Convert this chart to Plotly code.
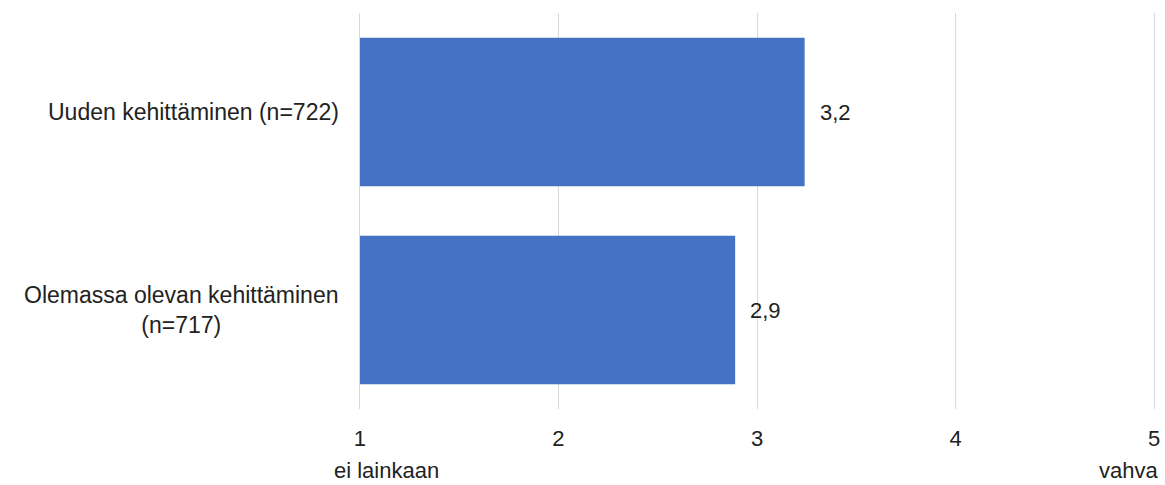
import plotly.graph_objects as go

categories = ["Uuden kehittäminen (n=722)", "Olemassa olevan kehittäminen<br>(n=717)"]
values = [3.24, 2.89]
tick_vals = [1, 2, 3, 4, 5]
tick_text = ["1", "2", "3", "4", "5"]
scale_ends = ["ei lainkaan", "vahva"]

FONT = "Liberation Sans, Arial, sans-serif"
TEXT = "#222222"
BAR = "#4472C4"

fig = go.Figure()
fig.add_trace(go.Bar(
    y=categories,
    x=[v - 1 for v in values],
    base=1,
    orientation="h",
    marker=dict(color=BAR, line=dict(width=0)),
    width=0.75,
    hoverinfo="skip",
))

annotations = []
# value labels to the right of each bar
for cat, v in zip(categories, values):
    annotations.append(dict(
        x=v, y=cat, xref="x", yref="y",
        text=f"{v:.1f}".replace(".", ","),
        showarrow=False, xanchor="left", xshift=13,
        font=dict(family=FONT, size=22, color=TEXT),
    ))
# category labels, lines centred on each other
for cat in categories:
    annotations.append(dict(
        x=0, y=cat, xref="paper", yref="y",
        text=cat, align="center",
        showarrow=False, xanchor="right", xshift=-17,
        font=dict(family=FONT, size=23, color=TEXT),
    ))
# scale end descriptions under the axis
annotations.append(dict(
    x=tick_vals[0], y=0, xref="x", yref="paper", yanchor="bottom", yshift=-76,
    text=scale_ends[0], showarrow=False, xanchor="left", xshift=-28,
    font=dict(family=FONT, size=22, color=TEXT),
))
annotations.append(dict(
    x=tick_vals[-1], y=0, xref="x", yref="paper", yanchor="bottom", yshift=-76,
    text=scale_ends[1], showarrow=False, xanchor="right", xshift=6,
    font=dict(family=FONT, size=22, color=TEXT),
))

fig.update_layout(
    width=1165, height=485,
    margin=dict(l=358, r=5, t=13, b=76),
    paper_bgcolor="white", plot_bgcolor="white",
    showlegend=False,
    font=dict(family=FONT, color=TEXT),
    annotations=annotations,
    xaxis=dict(
        range=[0.99, 5.01], tickvals=tick_vals, ticktext=tick_text,
        showgrid=True, gridcolor="#d9d9d9", gridwidth=1,
        zeroline=False, showline=False, ticks="",
        tickfont=dict(family=FONT, size=22, color=TEXT),
        ticklabelstandoff=14,
    ),
    yaxis=dict(
        categoryorder="array", categoryarray=categories[::-1],
        showticklabels=False, showgrid=False, zeroline=False,
        range=[-0.5, 1.5],
    ),
)

fig.write_html("out.html")
